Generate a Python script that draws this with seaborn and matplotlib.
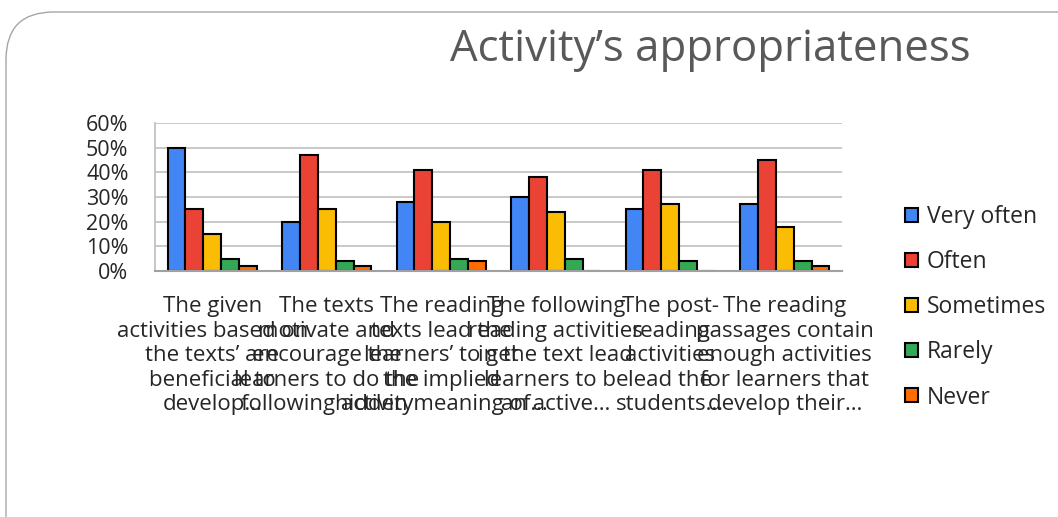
import matplotlib.pyplot as plt
import numpy as np
import pandas as pd
import seaborn as sns
from matplotlib.patches import FancyBboxPatch

categories = [
    "The given\nactivities based on\nthe texts\u2019 are\nbeneficial to\ndevelop\u2026",
    "The texts\nmotivate and\nencourage the\nlearners to do the\nfollowing activity",
    "The reading\ntexts lead the\nlearners\u2019 to get\nthe implied\nhidden meaning of\u2026",
    "The following\nreading activities\nin the text lead\nlearners to be\nan active\u2026",
    "The post-\nreading\nactivities\nlead the\nstudents\u2026",
    "The reading\npassages contain\nenough activities\nfor learners that\ndevelop their\u2026",
]
series = ["Very often", "Often", "Sometimes", "Rarely", "Never"]
very_often = [50, 20, 28, 30, 25, 27]
often = [25, 47, 41, 38, 41, 45]
sometimes = [15, 25, 20, 24, 27, 18]
rarely = [5, 4, 5, 5, 4, 4]
never = [2, 2, 4, 0, 0, 2]
colors = ["#4285F4", "#EA4335", "#FBBC04", "#34A853", "#FF6D01"]

values = [very_often, often, sometimes, rarely, never]
rows = []
for s, vals in zip(series, values):
    for c, v in zip(categories, vals):
        rows.append({"category": c, "series": s, "value": v})
df = pd.DataFrame(rows)

sns.set_theme(style="white")
plt.rcParams["font.family"] = ["Open Sans", "DejaVu Sans"]

fig = plt.figure(figsize=(10.58, 5.17), dpi=100)
ax = fig.add_axes([155 / 1058, 1 - 271 / 517, 687 / 1058, 148 / 517])

# rounded frame around the chart
frame = FancyBboxPatch((6 / 1058, -0.2), 1.2, 1 - 12 / 517 + 0.2,
                       boxstyle="round,pad=0,rounding_size=0.045",
                       transform=fig.transFigure, fill=False,
                       edgecolor="#A6A6A6", linewidth=1.0, zorder=0,
                       mutation_aspect=2.05)
fig.patches.append(frame)

sns.barplot(data=df, x="category", y="value", hue="series", palette=colors,
            width=0.78, edgecolor="black", linewidth=1.5, ax=ax, saturation=1)

ax.set_ylim(0, 60)
ax.set_yticks(range(0, 61, 10))
ax.set_yticklabels([f"{v}%" for v in range(0, 61, 10)], fontsize=15.5)
ax.yaxis.grid(True, color="#C0C0C0", linewidth=1.2)
ax.set_axisbelow(True)
ax.set_xlabel("")
ax.set_ylabel("")
ax.tick_params(axis="x", labelsize=16, length=0, pad=18)
ax.tick_params(axis="y", length=0, pad=19)
for lbl in ax.get_xticklabels():
    lbl.set_linespacing(1.22)
for side in ["top", "right"]:
    ax.spines[side].set_visible(False)
ax.spines["left"].set_color("#C0C0C0")
ax.spines["bottom"].set_color("#A0A0A0")
ax.spines["bottom"].set_linewidth(1.5)

ax.legend(loc="upper left", bbox_to_anchor=(896 / 1058, 1 - 196 / 517),
          bbox_transform=fig.transFigure, frameon=False, fontsize=16.5,
          labelspacing=0.92, handlelength=0.55, handleheight=0.55,
          handletextpad=0.4, borderaxespad=0)

fig.text(710 / 1058, 1 - 50 / 517, "Activity\u2019s appropriateness",
         ha="center", va="center", fontsize=31.5, color="#595959")

fig.savefig("out.png", dpi=100)
